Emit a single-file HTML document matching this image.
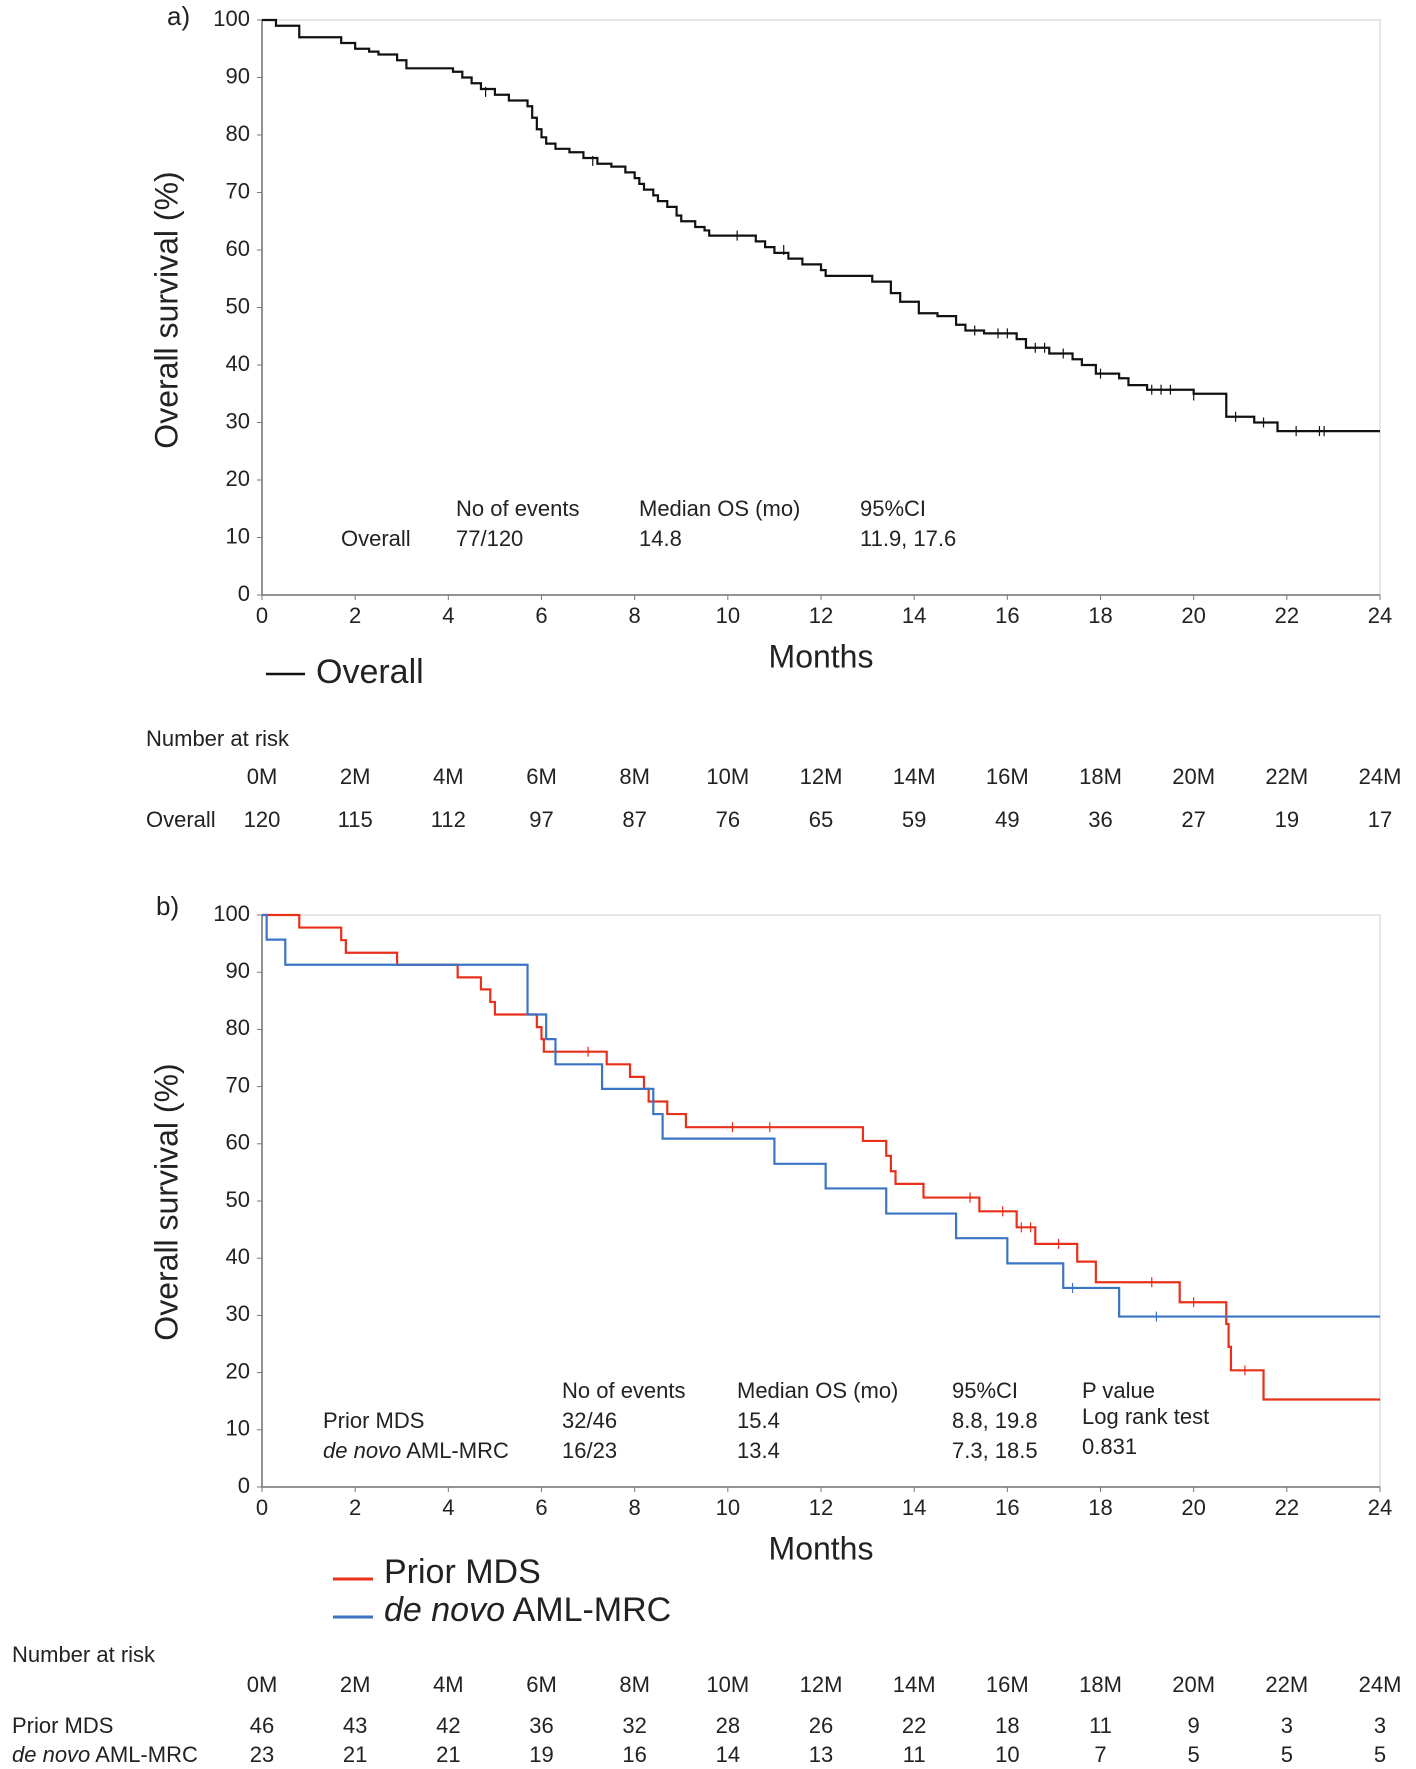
<!DOCTYPE html>
<html><head><meta charset="utf-8"><style>
body{margin:0;background:#fff}
svg{display:block;font-family:"Liberation Sans","Noto Sans CJK JP",sans-serif}
</style></head><body>
<svg id="s" width="1416" height="1769" viewBox="0 0 1416 1769"></svg>
<script>
const monthTicks=[0,2,4,6,8,10,12,14,16,18,20,22,24];
const yTicks=[0,10,20,30,40,50,60,70,80,90,100];
const overallSteps=[[0,100],[0.3,99],[0.8,97],[1.7,96],[2,95],[2.3,94.5],[2.5,94],[2.9,93],[3.1,91.6],[4.1,91],[4.3,90],[4.5,89],[4.7,88],[5,87],[5.3,86],[5.7,85],[5.8,83],[5.9,81],[6,79.6],[6.1,78.5],[6.3,77.6],[6.6,77],[6.9,76],[7.2,75],[7.5,74.5],[7.8,73.5],[8,72.5],[8.1,71.5],[8.2,70.5],[8.4,69.5],[8.5,68.5],[8.7,67.5],[8.9,66],[9,65],[9.3,64],[9.5,63.4],[9.6,62.5],[10.6,61.5],[10.8,60.5],[11,59.5],[11.3,58.5],[11.6,57.5],[12,56.5],[12.1,55.5],[13.1,54.5],[13.5,52.5],[13.7,51],[14.1,49],[14.5,48.5],[14.9,47],[15.1,46],[15.5,45.5],[16.2,44.5],[16.4,43],[16.9,42],[17.4,41],[17.6,40],[17.9,38.5],[18.4,37.7],[18.6,36.5],[19,35.7],[20,35],[20.7,31],[21.3,30],[21.8,28.5]];
const overallCensor=[[4.8,87.5],[7.1,75.5],[10.2,62.5],[11.2,60],[15.3,46],[15.8,45.5],[16,45.5],[16.6,43],[16.8,43],[17.2,42],[18.0,38.5],[19.1,35.7],[19.3,35.7],[19.5,35.7],[20,34.7],[20.9,31],[21.5,30],[22.2,28.5],[22.7,28.5],[22.8,28.5]];
const mdsSteps=[[0,100],[0.8,97.8],[1.7,95.6],[1.8,93.4],[2.9,91.3],[4.2,89.1],[4.7,87],[4.9,84.8],[5,82.6],[5.9,80.4],[6,78.3],[6.05,76.1],[7.4,73.9],[7.9,71.7],[8.2,69.6],[8.3,67.4],[8.7,65.2],[9.1,62.9],[12.9,60.5],[13.4,57.9],[13.5,55.2],[13.6,53],[14.2,50.6],[15.4,48.2],[16.2,45.4],[16.6,42.5],[17.5,39.4],[17.9,35.8],[19.7,32.3],[20.7,28.5],[20.75,24.5],[20.8,20.4],[21.5,15.3]];
const mdsCensor=[[7,76.1],[10.1,62.9],[10.9,62.9],[15.2,50.6],[15.9,48.2],[16.3,45.4],[16.5,45.4],[17.1,42.5],[19.1,35.8],[20,32.3],[21.1,20.4]];
const aml_Steps=[[0,100],[0.1,95.7],[0.5,91.3],[5.7,82.6],[6.1,78.3],[6.3,73.9],[7.3,69.6],[8.4,65.2],[8.6,60.9],[11,56.5],[12.1,52.2],[13.4,47.8],[14.9,43.5],[16,39.1],[17.2,34.8],[18.4,29.8]];
const amlCensor=[[17.4,34.8],[19.2,29.8]];
const riskOverall=[120,115,112,97,87,76,65,59,49,36,27,19,17];
const riskMds=[46,43,42,36,32,28,26,22,18,11,9,3,3];
const riskAml=[23,21,21,19,16,14,13,11,10,7,5,5,5];

const S=document.getElementById('s');const NS='http://www.w3.org/2000/svg';
function el(t,a,p){const e=document.createElementNS(NS,t);for(const k in a)e.setAttribute(k,a[k]);(p||S).appendChild(e);return e;}
function txt(x,y,s,o){o=o||{};const e=el('text',{x:x,y:y,'font-size':o.fs||22,fill:'#222','text-anchor':o.a||'start','dominant-baseline':'middle'});if(o.it)e.setAttribute('font-style','italic');e.textContent=s;return e;}
const X0=262,X1=1380;
function xs(m){return X0+(X1-X0)*m/24;}
function panel(top,bot,series,labelName){
  const ys=v=>bot-(bot-top)*v/100;
  const f=el('rect',{x:X0,y:top,width:X1-X0,height:bot-top,fill:'none',stroke:'#ddd','stroke-width':1.5});
  
  el('line',{x1:X0,y1:top,x2:X0,y2:bot,stroke:'#777','stroke-width':1.5});
  el('line',{x1:X0,y1:bot,x2:X1,y2:bot,stroke:'#777','stroke-width':1.5});
  yTicks.forEach(v=>{el('line',{x1:X0-5,y1:ys(v),x2:X0,y2:ys(v),stroke:'#777'});const t=txt(X0-12,ys(v),String(v),{a:'end'});});
  monthTicks.forEach(m=>{el('line',{x1:xs(m),y1:bot,x2:xs(m),y2:bot+5,stroke:'#777'});const t=txt(xs(m),bot+22,String(m),{a:'middle'});});
  series.forEach(sr=>{
    let d='M'+xs(sr.steps[0][0])+','+ys(sr.steps[0][1]);let prev=sr.steps[0][1];
    for(let i=1;i<sr.steps.length;i++){const [m,v]=sr.steps[i];d+=' H'+xs(m)+' V'+ys(v);prev=v;}
    d+=' H'+xs(24);
    const p=el('path',{d:d,fill:'none',stroke:sr.color,'stroke-width':2.2});
    
    sr.censor.forEach(([m,v])=>{const c=el('line',{x1:xs(m),y1:ys(v)-5,x2:xs(m),y2:ys(v)+5,stroke:sr.color,'stroke-width':1.2});
      });
  });
}
panel(20,595,[{steps:overallSteps,censor:overallCensor,color:'#111',name:'overall'}],'panel-a');
panel(915,1487,[{steps:mdsSteps,censor:mdsCensor,color:'#e8301a',name:'prior-mds'},{steps:aml_Steps,censor:amlCensor,color:'#3b74c4',name:'de-novo-aml'}],'panel-b');

function rot(x,y,s,n){const t=el('text',{x:0,y:0,'font-size':32,fill:'#222','text-anchor':'middle','dominant-baseline':'middle',transform:'translate('+x+','+y+') rotate(-90)'});t.textContent=s;}
rot(169,310,'Overall survival (%)','y-axis-title-a');
rot(169,1202,'Overall survival (%)','y-axis-title-b');
let t;
t=txt(167,18,'a)',{fs:26});
t=txt(156,908,'b)',{fs:26});
t=txt(821,659,'Months',{fs:32,a:'middle'});
t=txt(821,1551,'Months',{fs:32,a:'middle'});
// stats a
[['No of events',456,510],['Median OS (mo)',639,510],['95%CI',860,510],['Overall',341,540],['77/120',456,540],['14.8',639,540],['11.9, 17.6',860,540]].forEach(a=>{t=txt(a[1],a[2],a[0]);});
// stats b
[['No of events',562,1392],['Median OS (mo)',737,1392],['95%CI',952,1392],['P value',1082,1392],['Prior MDS',323,1422],['32/46',562,1422],['15.4',737,1422],['8.8, 19.8',952,1422],['Log rank test',1082,1418],['16/23',562,1452],['13.4',737,1452],['7.3, 18.5',952,1452],['0.831',1082,1448]].forEach(a=>{t=txt(a[1],a[2],a[0]);});
t=txt(323,1452,'',{});t.innerHTML='<tspan font-style="italic">de novo</tspan> AML-MRC';
// legends
el('line',{x1:266,y1:674,x2:305,y2:674,stroke:'#111','stroke-width':2.5});
t=txt(316,674,'Overall',{fs:34});
el('line',{x1:333,y1:1579,x2:373,y2:1579,stroke:'#e8301a','stroke-width':3});
t=txt(384,1574,'Prior MDS',{fs:34});
el('line',{x1:333,y1:1617,x2:373,y2:1617,stroke:'#3b74c4','stroke-width':3});
t=txt(384,1612,'',{fs:34});t.innerHTML='<tspan font-style="italic">de novo</tspan> AML-MRC';
// risk tables
t=txt(146,740,'Number at risk');
t=txt(146,821,'Overall');
monthTicks.forEach((m,i)=>{t=txt(xs(m),778,m+'M',{a:'middle'});
  t=txt(xs(m),821,String(riskOverall[i]),{a:'middle'});});
t=txt(12,1656,'Number at risk');
t=txt(12,1727,'Prior MDS');
t=txt(12,1756,'');t.innerHTML='<tspan font-style="italic">de novo</tspan> AML-MRC';
monthTicks.forEach((m,i)=>{t=txt(xs(m),1686,m+'M',{a:'middle'});
  t=txt(xs(m),1727,String(riskMds[i]),{a:'middle'});
  t=txt(xs(m),1756,String(riskAml[i]),{a:'middle'});});
</script>
</body></html>
